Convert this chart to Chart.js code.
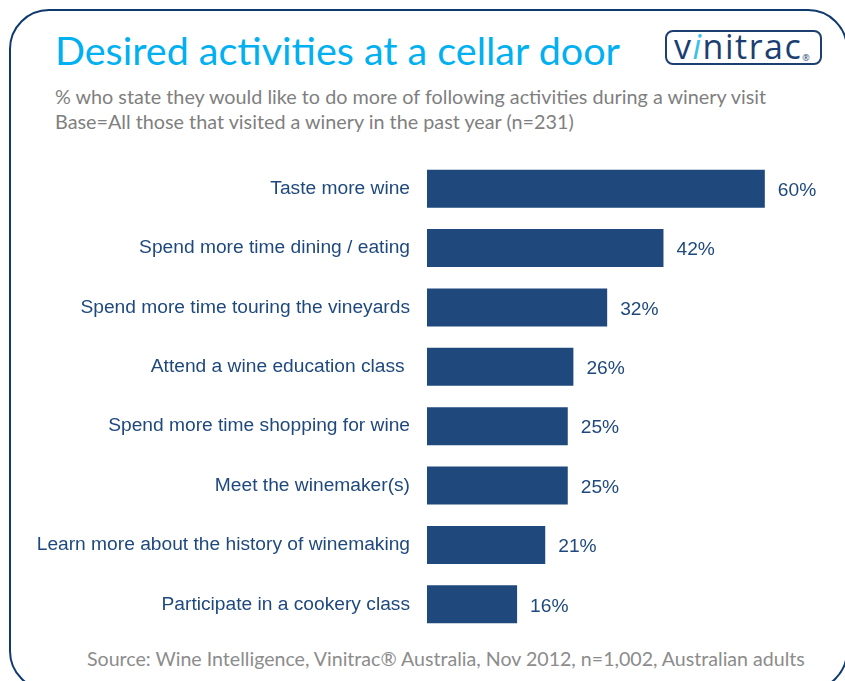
<!DOCTYPE html>
<html>
<head>
<meta charset="utf-8">
<script src="https://cdn.jsdelivr.net/npm/chart.js@4"></script>
<style>
  html, body { margin: 0; padding: 0; background: #fff; }
  body { width: 845px; height: 681px; position: relative; overflow: hidden; }
  .frame {
    position: absolute; left: 9px; top: 9px; width: 839px; height: 682px;
    border: 2.5px solid #0f3a6e; border-radius: 40px; box-sizing: border-box;
  }
  .title {
    position: absolute; left: 55px; top: 26px; font-family: Lato, sans-serif;
    font-size: 39.5px; color: #00B0F0; white-space: nowrap;
  }
  .sub {
    position: absolute; left: 55px; top: 84px; font-family: Lato, sans-serif;
    font-size: 19.8px; line-height: 25px; color: #7f7f7f; white-space: nowrap;
  }
  .source {
    position: absolute; left: 87px; top: 647px; font-family: Lato, sans-serif;
    font-size: 19.6px; color: #8c8c8c; white-space: nowrap;
  }
  .logo {
    position: absolute; left: 665px; top: 30px; width: 157px; height: 35px;
    border: 2px solid #1c3f72; border-radius: 8px; box-sizing: border-box;
    font-family: "Open Sans", sans-serif; font-size: 34px; font-weight: 400; color: #1c3f72;
    line-height: 29px; padding-left: 7px; letter-spacing: 1.5px; white-space: nowrap;
  }
  .logo .i { color: #3cc0ea; font-style: italic; }
  .logo sup { font-size: 9px; letter-spacing: 0; vertical-align: -2px; }
  canvas { position: absolute; left: 0; top: 0; }
</style>
</head>
<body>
<div class="frame"></div>
<div class="title">Desired activities at a cellar door</div>
<div class="logo">v<span class="i">i</span>nitrac<sup>®</sup></div>
<div class="sub">% who state they would like to do more of following activities during a winery visit<br>Base=All those that visited a winery in the past year (n=231)</div>
<div class="source">Source: Wine Intelligence, Vinitrac® Australia, Nov 2012, n=1,002, Australian adults</div>
<canvas id="chart" width="845" height="681"></canvas>
<script>
// activities and share of visitors (%)
const activities = [
  "Taste more wine",
  "Spend more time dining / eating",
  "Spend more time touring the vineyards",
  "Attend a wine education class ",
  "Spend more time shopping for wine",
  "Meet the winemaker(s)",
  "Learn more about the history of winemaking",
  "Participate in a cookery class"
];
const shares = [60, 42, 32, 26, 25, 25, 21, 16];

// value labels at the bar ends
const valueLabels = {
  id: "valueLabels",
  afterDatasetsDraw(chart) {
    const ctx = chart.ctx;
    ctx.save();
    ctx.font = "19.2px 'Liberation Sans', Arial, sans-serif";
    ctx.fillStyle = "#1F497D";
    ctx.textBaseline = "middle";
    chart.getDatasetMeta(0).data.forEach((bar, i) => {
      ctx.fillText(shares[i] + "%", bar.x + 13, bar.y + 2);
    });
    ctx.restore();
  }
};

new Chart(document.getElementById("chart"), {
  type: "bar",
  data: {
    labels: activities,
    datasets: [{
      data: shares,
      backgroundColor: "#1F497D",
      barPercentage: 0.8,
      categoryPercentage: 0.8
    }]
  },
  options: {
    indexAxis: "y",
    responsive: false,
    animation: false,
    layout: { padding: { top: 159, bottom: 47, right: 25, left: 0 } },
    plugins: { legend: { display: false }, tooltip: { enabled: false } },
    scales: {
      x: { display: false, min: 0, max: 69.8 },
      y: {
        grid: { display: false, drawTicks: false },
        border: { display: false },
        ticks: {
          color: "#1F497D",
          padding: 17,
          font: { family: "'Liberation Sans', Arial, sans-serif", size: 19.2 }
        },
        afterFit(axis) { axis.width = 427; }
      }
    }
  },
  plugins: [valueLabels]
});
</script>
</body>
</html>
